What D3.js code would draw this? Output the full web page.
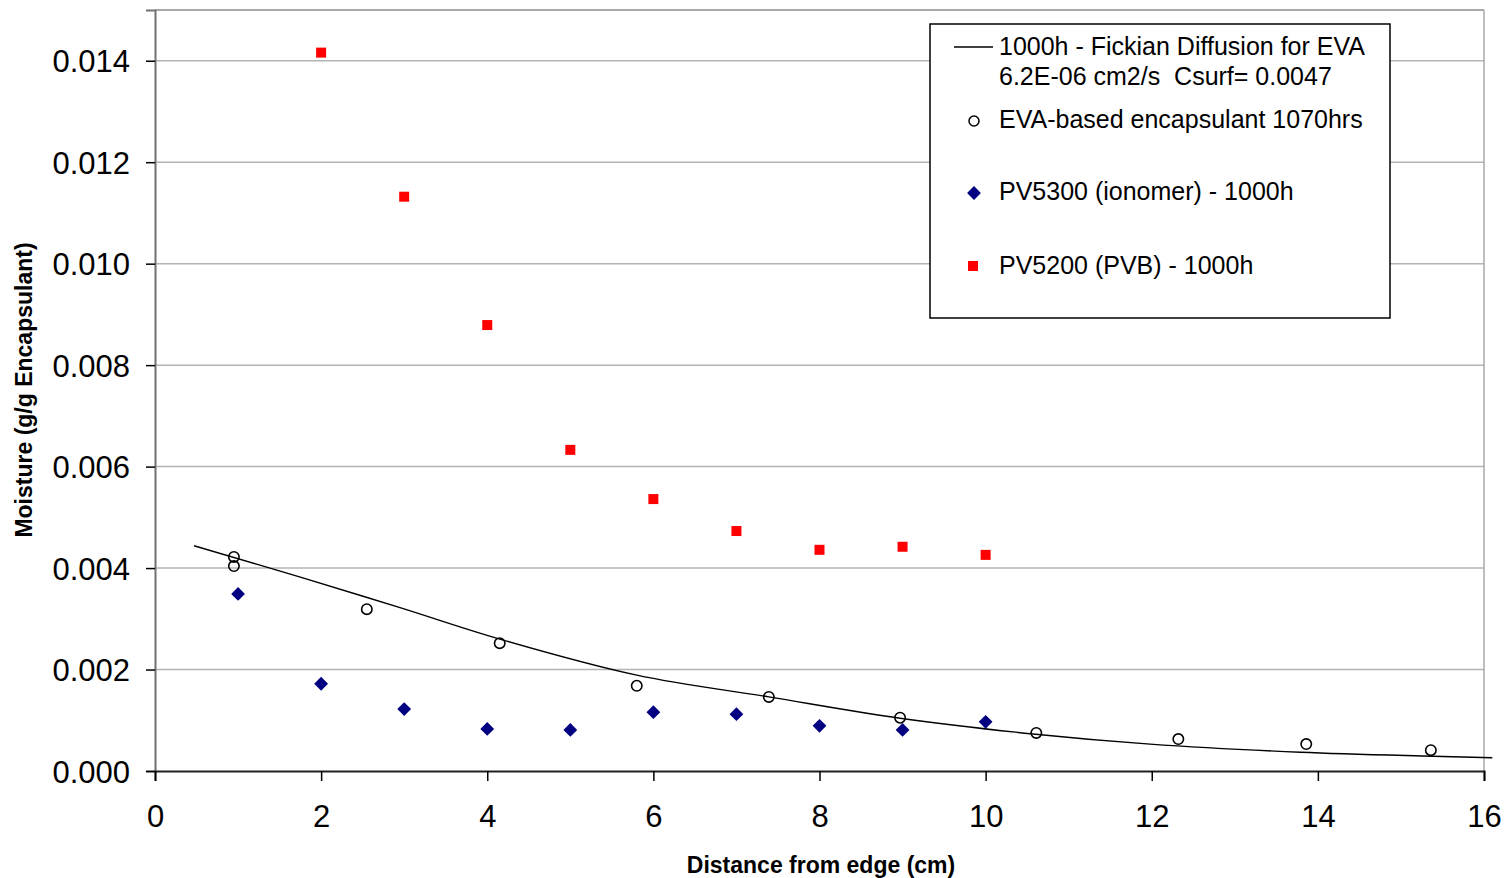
<!DOCTYPE html>
<html>
<head>
<meta charset="utf-8">
<script src="https://cdn.jsdelivr.net/npm/d3@7/dist/d3.min.js"></script>
<style>
  html, body { margin: 0; padding: 0; background: #fff; }
  svg { display: block; }
  text { font-family: "Liberation Sans", Arial, sans-serif; fill: #000; }
</style>
</head>
<body>
<svg id="chart" width="1504" height="878"></svg>
<script>
// ---- data ----
const fickX = [0.47, 1.75, 2.95, 4.15, 5.80, 7.39, 8.97, 10.57, 11.98, 13.79, 15.39, 16.10];
const fickY = [0.00444, 0.00382, 0.00322, 0.00260, 0.00189, 0.00146, 0.00104, 0.00073, 0.00053, 0.00037, 0.00029, 0.00026];

const evaX = [0.95, 0.95, 2.55, 4.15, 5.80, 7.39, 8.97, 10.61, 12.32, 13.86, 15.36];
const evaY = [0.00422, 0.00404, 0.00319, 0.00252, 0.00168, 0.00146, 0.00105, 0.00075, 0.00063, 0.00053, 0.00041];

const pv5300X = [1, 2, 3, 4, 5, 6, 7, 8, 9, 10];
const pv5300Y = [0.00349, 0.00172, 0.00122, 0.00083, 0.00081, 0.00116, 0.00112, 0.00089, 0.00081, 0.00097];

const pv5200X = [2, 3, 4, 5, 6, 7, 8, 9, 10];
const pv5200Y = [0.01416, 0.01132, 0.00879, 0.00633, 0.00536, 0.00473, 0.00436, 0.00442, 0.00426];

const xTicks = [0, 2, 4, 6, 8, 10, 12, 14, 16];
const yTicks = [0, 0.002, 0.004, 0.006, 0.008, 0.010, 0.012, 0.014];

const legendLabels = [
  ["1000h - Fickian Diffusion for EVA", "6.2E-06 cm2/s  Csurf= 0.0047"],
  ["EVA-based encapsulant 1070hrs"],
  ["PV5300 (ionomer) - 1000h"],
  ["PV5200 (PVB) - 1000h"]
];

// ---- layout ----
const svg = d3.select("#chart");
const L = 155, R = 1484, T = 10, B = 771;
const x = d3.scaleLinear().domain([0, 16]).range([L, R]);
const y = d3.scaleLinear().domain([0, 0.015]).range([B, T]);

// gridlines
svg.append("g").selectAll("line").data(yTicks.filter(d => d > 0)).join("line")
  .attr("x1", L).attr("x2", R)
  .attr("y1", d => y(d)).attr("y2", d => y(d))
  .attr("stroke", "#b4b4b4").attr("stroke-width", 1.5);

// top & right border
svg.append("line").attr("x1", L).attr("x2", R).attr("y1", T).attr("y2", T)
  .attr("stroke", "#a8a8a8").attr("stroke-width", 2);
svg.append("line").attr("x1", R).attr("x2", R).attr("y1", T).attr("y2", B)
  .attr("stroke", "#a8a8a8").attr("stroke-width", 1.5);

// axes
const yAxis = d3.axisLeft(y).tickValues(yTicks).tickFormat(d3.format(".3f")).tickSize(9).tickPadding(16);
const gy = svg.append("g").attr("transform", `translate(${L},0)`).call(yAxis);
gy.select(".domain").attr("stroke", "#707070").attr("stroke-width", 2);
gy.selectAll(".tick line").attr("stroke", "#000").attr("stroke-width", 1.5);
gy.selectAll(".tick text").attr("font-size", 31).attr("font-family", "Liberation Sans, Arial, sans-serif").attr("dy", "0.36em");

const xAxis = d3.axisBottom(x).tickValues(xTicks).tickFormat(d3.format("d")).tickSize(10).tickPadding(40);
const gx = svg.append("g").attr("transform", `translate(0,${B})`).call(xAxis);
gx.select(".domain").attr("stroke", "#202020").attr("stroke-width", 2);
gx.selectAll(".tick line").attr("stroke", "#000").attr("stroke-width", 1.5);
gx.selectAll(".tick text").attr("font-size", 31).attr("font-family", "Liberation Sans, Arial, sans-serif").attr("dy", "0.2em");

// axis titles
svg.append("text").attr("x", 821).attr("y", 873).attr("text-anchor", "middle")
  .attr("font-size", 23).attr("font-weight", "bold").text("Distance from edge (cm)");
svg.append("text").attr("transform", "translate(32,390) rotate(-90)").attr("text-anchor", "middle")
  .attr("font-size", 23).attr("font-weight", "bold").text("Moisture (g/g Encapsulant)");

// fickian line
const fick = fickX.map((d, i) => [d, fickY[i]]);
svg.append("path").datum(fick)
  .attr("d", d3.line().x(d => x(d[0])).y(d => y(d[1])).curve(d3.curveCatmullRom))
  .attr("fill", "none").attr("stroke", "#000").attr("stroke-width", 1.4);

// red squares
svg.append("g").selectAll("rect").data(pv5200X.map((d, i) => [d, pv5200Y[i]])).join("rect")
  .attr("x", d => x(d[0]) - 5).attr("y", d => y(d[1]) - 5)
  .attr("width", 10).attr("height", 10).attr("fill", "#ff0000");

// navy diamonds
const diamond = d3.symbol().type(d3.symbolSquare).size(95);
svg.append("g").selectAll("path").data(pv5300X.map((d, i) => [d, pv5300Y[i]])).join("path")
  .attr("d", diamond)
  .attr("transform", d => `translate(${x(d[0])},${y(d[1])}) rotate(45)`)
  .attr("fill", "#000080");

// open circles
svg.append("g").selectAll("circle").data(evaX.map((d, i) => [d, evaY[i]])).join("circle")
  .attr("cx", d => x(d[0])).attr("cy", d => y(d[1])).attr("r", 5.2)
  .attr("fill", "none").attr("stroke", "#000").attr("stroke-width", 1.6);

// legend
const lg = svg.append("g");
lg.append("rect").attr("x", 930).attr("y", 24).attr("width", 460).attr("height", 294)
  .attr("fill", "#fff").attr("stroke", "#000").attr("stroke-width", 1.5);
lg.append("line").attr("x1", 954).attr("x2", 993).attr("y1", 47).attr("y2", 47)
  .attr("stroke", "#000").attr("stroke-width", 1.5);
const baselines = [[55, 85], [128], [200], [274]];
legendLabels.forEach((lines, i) => {
  lines.forEach((t, j) => {
    lg.append("text").attr("x", 999).attr("y", baselines[i][j]).attr("font-size", 25)
      .attr("xml:space", "preserve").style("white-space", "pre").text(t);
  });
});
lg.append("circle").attr("cx", 974).attr("cy", 121).attr("r", 5)
  .attr("fill", "none").attr("stroke", "#000").attr("stroke-width", 1.5);
lg.append("path").attr("d", diamond).attr("transform", "translate(974,193) rotate(45)").attr("fill", "#000080");
lg.append("rect").attr("x", 968).attr("y", 261).attr("width", 10).attr("height", 10).attr("fill", "#ff0000");
</script>
</body>
</html>
